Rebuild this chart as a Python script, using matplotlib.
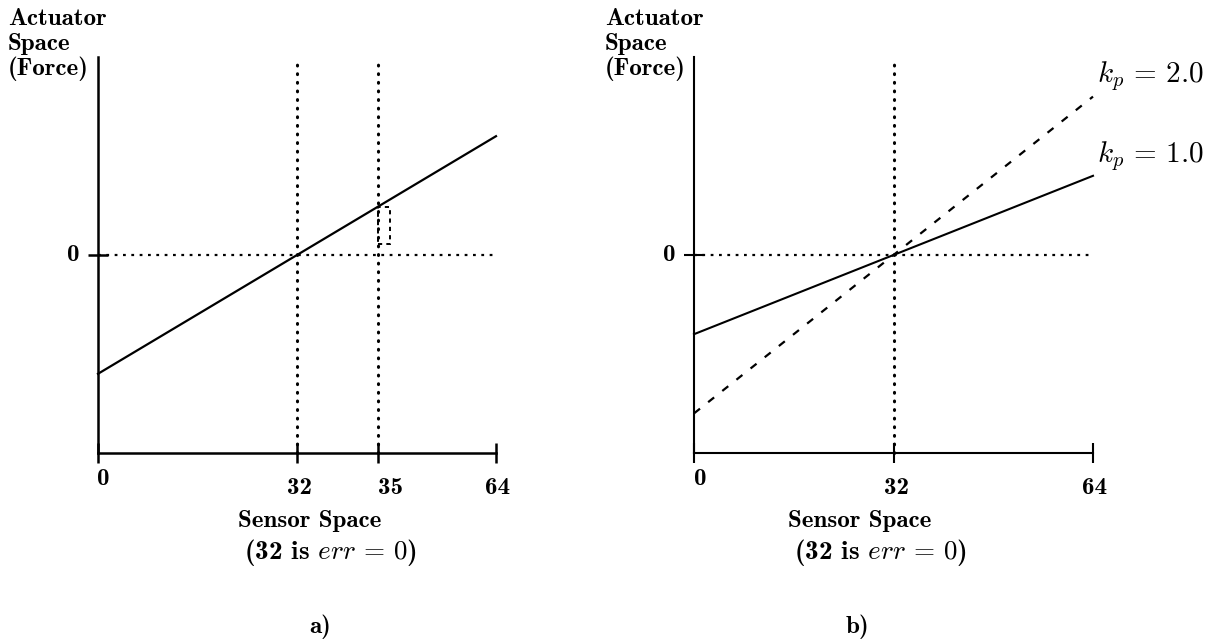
import matplotlib
matplotlib.use("Agg")
import matplotlib.pyplot as plt
from matplotlib.patches import Rectangle

plt.rcParams['mathtext.fontset'] = 'cm'
plt.rcParams['lines.scale_dashes'] = False

# ---- data -----------------------------------------------------------------
sensor_range = [0, 64]
err_zero = 32

# panel a: sensor axis ticks (the 35 marker is stretched out for readability)
a_tick_pos = [0, 32, 45, 64]
a_tick_labels = ['0', '32', '35', '64']
a_marker_pos = 45
a_line_x = [0, 64]
a_line_y = [-0.6, 0.6]
a_box_x = [45, 46.9]
a_box_y = [0.056, 0.244]

# panel b: two proportional gains
b_tick_pos = [0, 32, 64]
b_tick_labels = ['0', '32', '64']
b_line_x = [0, 64]
b_kp1_y = [-0.4, 0.4]
b_kp2_y = [-0.8, 0.8]
b_gain_labels = ['1.0', '2.0']

# ---- figure ---------------------------------------------------------------
W, H = 1218, 644
fig = plt.figure(figsize=(W / 100, H / 100), dpi=100)
fig.patch.set_facecolor('white')


def fx(px):
    return px / W


def fy(py):
    return 1 - py / H


PT = 72 / 100  # points per pixel
DOTS = (0, (0.6, 5.6))
HDOTS = (0, (2.0, 4.0))
DASH = (0, (5.5, 7.5))
BOLD = dict(family='cmb10', fontsize=18)


def setup_axes(ax, tick_pos, tick_labels, label_dx, spine_w):
    ax.set_xlim(*sensor_range)
    ax.set_ylim(-1, 1)
    for side in ('top', 'right'):
        ax.spines[side].set_visible(False)
    for side in ('left', 'bottom'):
        ax.spines[side].set_linewidth(spine_w)
        ax.spines[side].set_color('black')
    ax.patch.set_alpha(0)
    ax.set_xticks(tick_pos)
    ax.set_xticklabels([])
    ax.set_yticks([0])
    ax.set_yticklabels([])
    ax.tick_params(axis='both', direction='inout', length=15, width=spine_w,
                   color='black')
    # tick labels
    for pos, lab, dx in zip(tick_pos, tick_labels, label_dx):
        dy = 15 if pos == 0 else 24
        ax.annotate(lab, xy=(pos, -1), xytext=(dx * PT, -dy * PT),
                    textcoords='offset points', ha='center', va='top',
                    annotation_clip=False, **BOLD)
    ax.annotate('0', xy=(0, 0), xytext=(-25 * PT, 0),
                textcoords='offset points', ha='center', va='center',
                annotation_clip=False, **BOLD)
    # zero force reference
    ax.plot(sensor_range, [0, 0], color='black', lw=1.6, ls=HDOTS,
            dash_capstyle='butt', clip_on=False)


def vdots(ax, xv):
    ax.plot([xv, xv], [-1, 1], color='black', lw=2.2, ls=DOTS,
            dash_capstyle='round', clip_on=False)


def side_labels(x_left, x_center, tag, tag_x):
    fig.text(fx(x_left), fy(25), 'Actuator', va='baseline', **BOLD)
    fig.text(fx(x_left), fy(50), 'Space', va='baseline', **BOLD)
    fig.text(fx(x_left), fy(75), '(Force)', va='baseline', **BOLD)
    fig.text(fx(x_center), fy(521), 'Sensor Space', ha='center',
             va='center', **BOLD)
    fig.text(fx(x_center + 20), fy(552), r'(32 is $err\,=\,0$)',
             ha='center', va='center', family='cmb10', fontsize=19.5)
    fig.text(fx(tag_x), fy(627), tag, ha='center', va='center', **BOLD)


# ---- panel a --------------------------------------------------------------
ax_a = fig.add_axes([fx(98), fy(453), 398 / W, 396 / H])
setup_axes(ax_a, a_tick_pos, a_tick_labels, [5, 3, 13, 2], 1.8)
for xv in (err_zero, a_marker_pos):
    vdots(ax_a, xv)
ax_a.plot(a_line_x, a_line_y, color='black', lw=1.6, clip_on=False)
ax_a.add_patch(Rectangle((a_box_x[0], a_box_y[0]), a_box_x[1] - a_box_x[0],
                         a_box_y[1] - a_box_y[0], fill=False, ec='black',
                         lw=1.4, ls=(0, (3, 3))))
side_labels(8, 310, 'a)', 320)

# ---- panel b --------------------------------------------------------------
ax_b = fig.add_axes([fx(694), fy(453), 399 / W, 396 / H])
setup_axes(ax_b, b_tick_pos, b_tick_labels, [6, 3, 2], 1.5)
vdots(ax_b, err_zero)
ax_b.plot(b_line_x, b_kp1_y, color='black', lw=1.5, clip_on=False)
ax_b.plot(b_line_x, b_kp2_y, color='black', lw=1.6, ls=DASH, clip_on=False)
for yv, g in zip([b_kp2_y[1], b_kp1_y[1]], reversed(b_gain_labels)):
    ax_b.annotate(r'$k_p\,=\,' + g + '$', xy=(64, yv),
                  xytext=(4 * PT, 20 * PT), textcoords='offset points',
                  ha='left', va='center', fontsize=21, annotation_clip=False)
side_labels(605, 860, 'b)', 857)

fig.savefig('out.png', dpi=100, facecolor='white')
